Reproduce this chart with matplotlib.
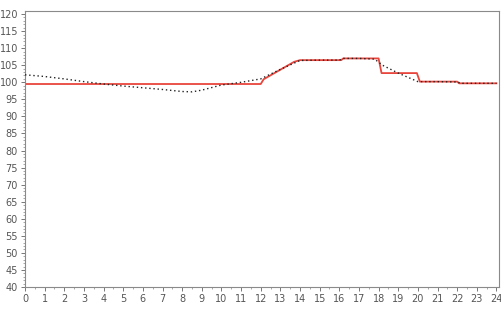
import matplotlib
matplotlib.use("Agg")
import matplotlib.pyplot as plt
from matplotlib.ticker import MultipleLocator

# dotted black series (hour, value)
dot_x = [0, 1, 2, 3, 4, 5, 6, 7, 8, 8.5, 9, 10, 11, 12, 13, 14, 15, 16, 16.2,
         17, 17.8, 18.2, 19, 20, 21, 22, 22.2, 23, 24]
dot_y = [102.2, 101.7, 101.0, 100.2, 99.5, 98.9, 98.4, 97.9, 97.3, 97.2, 97.7,
         99.2, 100.0, 101.0, 103.8, 106.4, 106.5, 106.5, 107.0, 107.0, 106.8,
         105.0, 102.7, 100.2, 100.2, 100.1, 99.7, 99.7, 99.7]

# red step-like series
red_x = [0, 12.0, 12.15, 13.7, 14.0, 16.1, 16.2, 18.0, 18.15, 19.95, 20.1,
         22.0, 22.1, 24]
red_y = [99.5, 99.5, 100.9, 106.0, 106.5, 106.5, 107.0, 107.0, 102.7, 102.7,
         100.2, 100.2, 99.7, 99.7]

x_ticks = list(range(0, 25))
y_ticks = list(range(40, 121, 5))

fig = plt.figure(figsize=(5.01, 3.16), dpi=100)
ax = fig.add_axes([25 / 501, 1 - 287 / 316, 474 / 501, 276 / 316])

ax.plot(red_x, red_y, color="#e8453c", lw=1.3, zorder=2)
ax.plot(dot_x, dot_y, color="#222222", lw=1.0, linestyle=(0, (1, 2)), zorder=3)

ax.set_xlim(0, 24.13)
ax.set_ylim(40, 120.9)
ax.set_xticks(x_ticks)
ax.set_yticks(y_ticks)
ax.xaxis.set_minor_locator(MultipleLocator(0.5))
ax.yaxis.set_minor_locator(MultipleLocator(1))

for s in ax.spines.values():
    s.set_color("#8a8a8a")
    s.set_linewidth(0.8)
ax.tick_params(which="major", length=3, width=0.7, color="#777777",
               labelsize=7, labelcolor="#555555", pad=2)
ax.tick_params(which="minor", length=1.5, width=0.6, color="#999999")

fig.savefig("out.png", dpi=100)
